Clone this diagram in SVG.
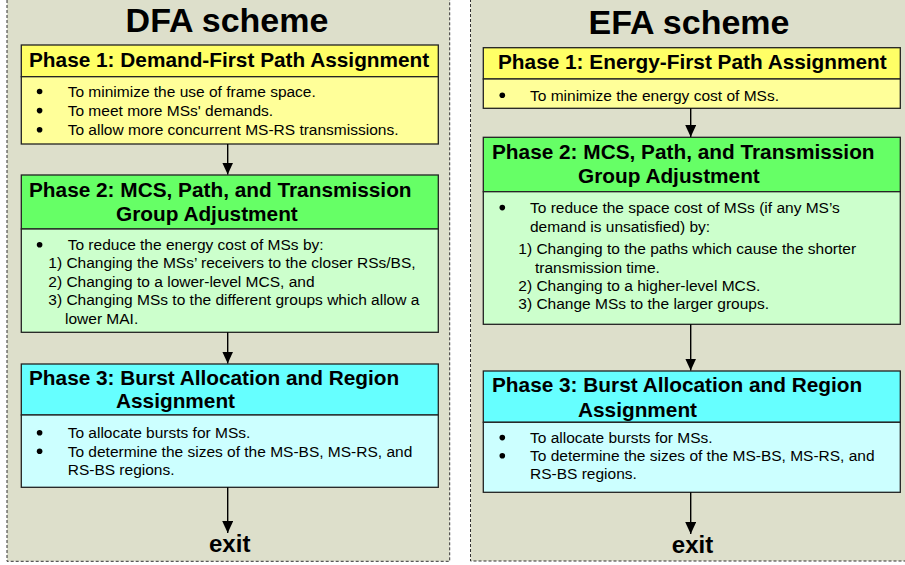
<svg xmlns="http://www.w3.org/2000/svg" width="905" height="565" viewBox="0 0 905 565">
<style>
.panel{fill:#dddfcb;stroke:#333;stroke-width:1;stroke-dasharray:3 2}
.box{stroke:#222;stroke-width:1.3}
.y1{fill:#ffff66}.y2{fill:#ffff99}
.g1{fill:#66ff66}.g2{fill:#ccffcc}
.c1{fill:#66ffff}.c2{fill:#ccffff}
.bul{fill:#000}
text{font-family:"Liberation Sans",Arial,sans-serif;fill:#000}
.title{font-size:34px;font-weight:bold;text-anchor:middle}
.hd{font-size:20.8px;font-weight:bold}
.bd{font-size:15.5px}
.exit{font-size:24px;font-weight:bold;text-anchor:middle}
.conn{stroke:#000;stroke-width:1.4;fill:none;marker-end:url(#ah)}
</style>
<defs>
<marker id="ah" markerUnits="userSpaceOnUse" markerWidth="12" markerHeight="11" refX="12" refY="5.5" orient="auto" viewBox="0 0 12 11">
<path d="M0,0 L12,5.5 L0,11 Z" fill="#000"/>
</marker>
</defs>
<rect width="905" height="565" fill="#fff"/>
<g id="panel-dfa">
<rect class="panel" x="7" y="-5" width="442.7" height="566.3"/>
<text class="title" x="227" y="32.3">DFA scheme</text>
</g>
<g id="panel-efa">
<rect class="panel" x="470.5" y="-5" width="445" height="566"/>
<text class="title" x="689" y="34.3">EFA scheme</text>
</g>
<g id="dfa-phase1">
<rect class="box y1" x="21.3" y="45" width="417" height="31.7"/>
<rect class="box y2" x="21.3" y="76.7" width="417" height="67.3"/>
<text class="hd" x="29" y="66.6">Phase 1: Demand-First Path Assignment</text>
<circle class="bul" cx="39.6" cy="91.5" r="2.8"/>
<text class="bd" x="67.7" y="96.7">To minimize the use of frame space.</text>
<circle class="bul" cx="39.6" cy="110.6" r="2.8"/>
<text class="bd" x="67.7" y="115.8">To meet more MSs' demands.</text>
<circle class="bul" cx="39.6" cy="129.8" r="2.8"/>
<text class="bd" x="67.7" y="135">To allow more concurrent MS-RS transmissions.</text>
</g>
<g id="dfa-phase2">
<rect class="box g1" x="21.3" y="175" width="417" height="54"/>
<rect class="box g2" x="21.3" y="229" width="417" height="103.3"/>
<text class="hd" x="29" y="197">Phase 2: MCS, Path, and Transmission</text>
<text class="hd" x="116" y="221">Group Adjustment</text>
<circle class="bul" cx="39.6" cy="244.8" r="2.8"/>
<text class="bd" x="67.7" y="250">To reduce the energy cost of MSs by:</text>
<text class="bd" x="48.3" y="268.4">1) Changing the MSs’ receivers to the closer RSs/BS,</text>
<text class="bd" x="48.3" y="286.8">2) Changing to a lower-level MCS, and</text>
<text class="bd" x="48.3" y="305.2">3) Changing MSs to the different groups which allow a</text>
<text class="bd" x="65" y="323.6">lower MAI.</text>
</g>
<g id="dfa-phase3">
<rect class="box c1" x="21.3" y="364" width="417" height="51"/>
<rect class="box c2" x="21.3" y="415" width="417" height="72.3"/>
<text class="hd" x="29" y="385">Phase 3: Burst Allocation and Region</text>
<text class="hd" x="116" y="408">Assignment</text>
<circle class="bul" cx="39.6" cy="432.8" r="2.8"/>
<text class="bd" x="67.7" y="438">To allocate bursts for MSs.</text>
<circle class="bul" cx="39.6" cy="451.3" r="2.8"/>
<text class="bd" x="67.7" y="456.5">To determine the sizes of the MS-BS, MS-RS, and</text>
<text class="bd" x="67.7" y="475">RS-BS regions.</text>
</g>
<g id="dfa-exit">
<text class="exit" x="229.7" y="551.5">exit</text>
</g>
<g id="efa-phase1">
<rect class="box y1" x="483.3" y="47.7" width="417" height="31.3"/>
<rect class="box y2" x="483.3" y="79" width="417" height="29.3"/>
<text class="hd" x="498" y="69.4">Phase 1: Energy-First Path Assignment</text>
<circle class="bul" cx="502.3" cy="95.3" r="2.8"/>
<text class="bd" x="530" y="100.5">To minimize the energy cost of MSs.</text>
</g>
<g id="efa-phase2">
<rect class="box g1" x="483.3" y="137.3" width="417" height="54.4"/>
<rect class="box g2" x="483.3" y="191.7" width="417" height="132.6"/>
<text class="hd" x="492" y="159">Phase 2: MCS, Path, and Transmission</text>
<text class="hd" x="578" y="183.2">Group Adjustment</text>
<circle class="bul" cx="502.3" cy="207.6" r="2.8"/>
<text class="bd" x="530" y="212.8">To reduce the space cost of MSs (if any MS’s</text>
<text class="bd" x="530" y="231.6">demand is unsatisfied) by:</text>
<text class="bd" x="518.3" y="254.4">1) Changing to the paths which cause the shorter</text>
<text class="bd" x="535" y="272.6">transmission time.</text>
<text class="bd" x="518.3" y="291">2) Changing to a higher-level MCS.</text>
<text class="bd" x="518.3" y="309.4">3) Change MSs to the larger groups.</text>
</g>
<g id="efa-phase3">
<rect class="box c1" x="483.3" y="371" width="417" height="51.3"/>
<rect class="box c2" x="483.3" y="422.3" width="417" height="70"/>
<text class="hd" x="492" y="392.2">Phase 3: Burst Allocation and Region</text>
<text class="hd" x="578" y="416.6">Assignment</text>
<circle class="bul" cx="502.3" cy="437.6" r="2.8"/>
<text class="bd" x="530" y="442.8">To allocate bursts for MSs.</text>
<circle class="bul" cx="502.3" cy="455.8" r="2.8"/>
<text class="bd" x="530" y="461">To determine the sizes of the MS-BS, MS-RS, and</text>
<text class="bd" x="530" y="479.4">RS-BS regions.</text>
</g>
<g id="efa-exit">
<text class="exit" x="692.5" y="553.3">exit</text>
</g>
<g id="connectors">
<line class="conn" x1="227.7" y1="144" x2="227.7" y2="174.5"/>
<line class="conn" x1="227.7" y1="332.3" x2="227.7" y2="363.5"/>
<line class="conn" x1="227.7" y1="487.3" x2="227.7" y2="533"/>
<line class="conn" x1="690.7" y1="108.3" x2="690.7" y2="137"/>
<line class="conn" x1="690.7" y1="324.3" x2="690.7" y2="370.5"/>
<line class="conn" x1="690.7" y1="492.3" x2="690.7" y2="534"/>
</g>
</svg>
